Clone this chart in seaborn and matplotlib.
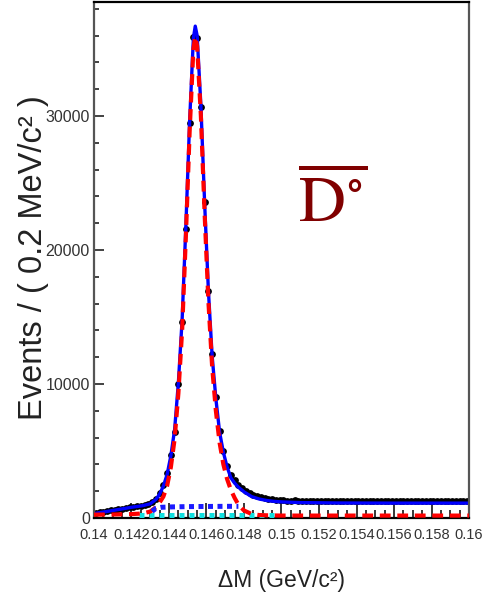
import numpy as np
import matplotlib
matplotlib.use("Agg")
import matplotlib.pyplot as plt
import seaborn as sns
import pandas as pd

# ---------------- data ----------------
bin_lo = 0.140
bin_width = 0.0002
n_bins = 100
data_counts = [
    400, 440, 470, 520, 560, 610, 640, 700, 740, 790,
    830, 880, 930, 980, 1060, 1200, 1450, 1850, 2450, 3350,
    4700, 6400, 10000, 14600, 21600, 29500, 35900, 35800, 30700, 23600,
    16900, 12200, 9000, 6500, 5000, 3900, 3200, 2800, 2450, 2250,
    2050, 1900, 1750, 1650, 1580, 1500, 1450, 1400, 1380, 1350,
    1320, 1300, 1290, 1310, 1280, 1270, 1300, 1260, 1280, 1290,
    1270, 1250, 1280, 1260, 1300, 1270, 1250, 1260, 1280, 1250,
    1270, 1260, 1240, 1280, 1250, 1260, 1270, 1240, 1260, 1250,
    1280, 1260, 1240, 1270, 1250, 1260, 1240, 1280, 1260, 1250,
    1270, 1240, 1260, 1250, 1270, 1250, 1260, 1240, 1270, 1260,
]

fit_x = [0.1400, 0.1410, 0.1420, 0.1426, 0.1430, 0.1433, 0.1435, 0.1437, 0.1439,
         0.1441, 0.1443, 0.1445, 0.1447, 0.1449, 0.1451, 0.1453, 0.1454, 0.1455,
         0.1457, 0.1459, 0.1461, 0.1463, 0.1465, 0.1467, 0.1469, 0.1471, 0.1473,
         0.1475, 0.1477, 0.1480, 0.1484, 0.1488, 0.1492, 0.1496, 0.1500, 0.1510,
         0.1530, 0.1560, 0.1600]
total_fit = [330, 560, 800, 920, 1060, 1380, 1780, 2380, 3250,
             4650, 6600, 10100, 14800, 21800, 29600, 35800, 36700, 36000,
             30800, 23500, 17000, 12100, 8900, 6400, 4900, 3800, 3000,
             2600, 2300, 1950, 1600, 1420, 1310, 1240, 1200, 1150,
             1120, 1110, 1110]
signal_fit = [250, 260, 290, 340, 480, 800, 1150, 1600, 2400,
              3800, 5900, 9300, 14000, 21000, 28800, 35000, 35900, 35200,
              30000, 22700, 16200, 11300, 8000, 5600, 4000, 2900, 2100,
              1500, 1000, 560, 300, 220, 200, 190, 180, 180,
              180, 180, 180]

peak_bkg_x = [0.1431, 0.1433, 0.1436, 0.1442, 0.1450, 0.1460, 0.1470, 0.1477]
peak_bkg_y = [500, 720, 800, 830, 850, 860, 870, 870]

flat_bkg_x = [0.1424, 0.1496]
flat_bkg_y = [230, 230]

x_ticks = [0.14, 0.142, 0.144, 0.146, 0.148, 0.15, 0.152, 0.154, 0.156, 0.158, 0.16]
x_tick_labels = ["0.14", "0.142", "0.144", "0.146", "0.148", "0.15",
                 "0.152", "0.154", "0.156", "0.158", "0.16"]
y_ticks = [0, 10000, 20000, 30000]
y_tick_labels = ["0", "10000", "20000", "30000"]

# ---------------- figure ----------------
sns.set_style("white")
plt.rcParams["font.family"] = ["Liberation Sans", "DejaVu Sans"]
plt.rcParams["mathtext.fontset"] = "stix"

fig = plt.figure(figsize=(4.96, 6.01), dpi=100)
ax = fig.add_axes([94 / 496, 1 - 518 / 601, 375 / 496, 516 / 601])

centers = bin_lo + bin_width * (np.arange(n_bins) + 0.5)
df = pd.DataFrame({"x": centers, "y": data_counts})
fit_df = pd.DataFrame({"x": fit_x, "total": total_fit, "signal": signal_fit})

ax.errorbar(df["x"], df["y"], xerr=bin_width / 2, yerr=np.sqrt(df["y"]),
            fmt="none", ecolor="black", elinewidth=1.8, zorder=1)
sns.scatterplot(data=df, x="x", y="y", ax=ax, color="black", s=24,
                edgecolor="black", linewidth=0, zorder=1.5, legend=False)

sns.lineplot(data=fit_df, x="x", y="total", ax=ax, color="#0000ff",
             linewidth=2.4, zorder=2, legend=False)
sns.lineplot(data=fit_df, x="x", y="signal", ax=ax, color="#ff0000",
             linewidth=3.0, zorder=3, legend=False)
ax.lines[-1].set_dashes([2.6, 1.6])
sns.lineplot(x=peak_bkg_x, y=peak_bkg_y, ax=ax, color="#1a1aff",
             linewidth=3.6, zorder=3, legend=False)
ax.lines[-1].set_dashes([1.0, 0.9])
sns.lineplot(x=flat_bkg_x, y=flat_bkg_y, ax=ax, color="#10e0e0",
             linewidth=3.6, zorder=2.8, legend=False)
ax.lines[-1].set_dashes([1.0, 1.0])

ax.set_xlim(0.14, 0.16)
ax.set_ylim(0, 38500)

ax.set_xticks(x_ticks)
ax.set_xticklabels(x_tick_labels, fontsize=10.5, color="#333333")
ax.set_yticks(y_ticks)
ax.set_yticklabels(y_tick_labels, fontsize=11.5, color="#333333")
ax.set_xticks(np.arange(0.1405, 0.16, 0.0005), minor=True)
ax.set_yticks(np.arange(2000, 38500, 2000), minor=True)

ax.tick_params(axis="x", which="major", direction="in", length=11, width=1.1,
               pad=7, color="black")
ax.tick_params(axis="x", which="minor", direction="in", length=6, width=1.1,
               color="black")
ax.tick_params(axis="y", which="major", direction="in", length=7.5, width=1.2,
               pad=3, color="#222222")
ax.tick_params(axis="y", which="minor", direction="in", length=3.8, width=1.2,
               color="#222222")
ax.tick_params(bottom=True, left=True, top=False, right=False, which="both")

for side in ["left", "right"]:
    ax.spines[side].set_color("#555555")
    ax.spines[side].set_linewidth(1.6)
for side in ["top", "bottom"]:
    ax.spines[side].set_color("black")
    ax.spines[side].set_linewidth(1.6)

ax.set_xlabel("ΔM (GeV/c²)", fontsize=16.5, color="#222222")
ax.xaxis.set_label_coords(0.5, (518 - 569) / 516)
ax.xaxis.label.set_va("top")
ax.set_ylabel("Events / ( 0.2 MeV/c² )", fontsize=23.5, color="#222222")
ax.yaxis.label.set_va("center")
ax.yaxis.set_label_coords((34 - 94) / 375, (518 - 258) / 516)

ax.text((298 - 94) / 375, (518 - 222) / 516, r"$\overline{\mathrm{D}^{\circ}}$",
        transform=ax.transAxes, fontsize=47, color="#800000",
        ha="left", va="baseline")

fig.savefig("out.png", dpi=100)
